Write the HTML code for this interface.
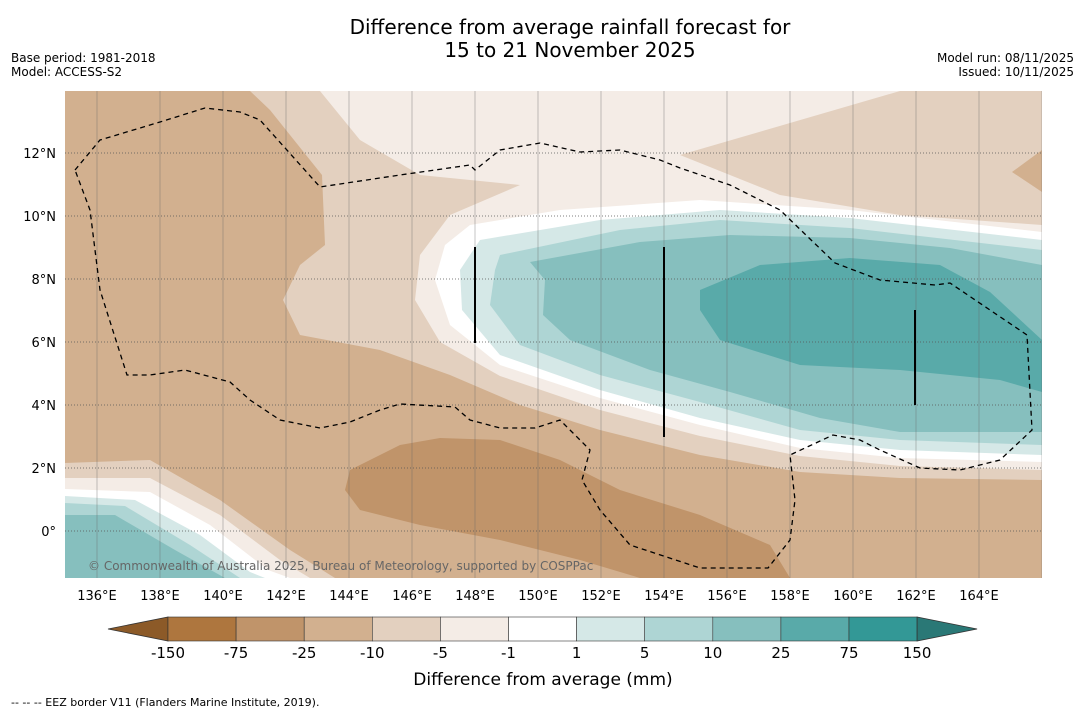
<!DOCTYPE html>
<html><head><meta charset="utf-8"><style>
body{margin:0;background:#fff;font-family:"DejaVu Sans","Liberation Sans",sans-serif;}
</style></head><body>
<svg id="s" width="1085" height="713" xmlns="http://www.w3.org/2000/svg" font-family="DejaVu Sans, Liberation Sans, sans-serif">
<text x="570" y="34" font-size="20" text-anchor="middle">Difference from average rainfall forecast for</text>
<text x="570" y="57" font-size="20" text-anchor="middle">15 to 21 November 2025</text>
<text x="11" y="62" font-size="12">Base period: 1981-2018</text>
<text x="11" y="76" font-size="12">Model: ACCESS-S2</text>
<text x="1074" y="62" font-size="12" text-anchor="end">Model run: 08/11/2025</text>
<text x="1074" y="76" font-size="12" text-anchor="end">Issued: 10/11/2025</text>
<defs><clipPath id="mc"><rect x="65" y="91" width="977" height="487"/></clipPath></defs>
<g clip-path="url(#mc)">
<rect x="65" y="91" width="977" height="487" fill="#d2b08f"/>
<path d="M230,91 L1042,91 L1042,480 L900,478 L800,472 L700,455 L600,430 L520,405 L450,375 L380,350 L300,335 L283,300 L300,265 L325,245 L322,175 L270,110 L250,91Z" fill="#e3d0bf"/>
<path d="M1042,150 L1012,172 L1042,192Z" fill="#d2b08f"/>
<path d="M320,91 L900,91 L680,155 L780,195 L900,215 L1042,225 L1042,470 L900,466 L800,456 L700,436 L600,410 L500,376 L440,342 L415,300 L420,255 L450,215 L520,185 L420,175 L360,140Z" fill="#f4ece6"/>
<path d="M470,225 L560,210 L700,200 L850,210 L1042,232 L1042,462 L900,458 L800,448 L700,425 L600,398 L500,365 L450,325 L435,280 L445,245Z" fill="#ffffff"/>
<path d="M480,240 L600,220 L720,210 L850,218 L1042,240 L1042,455 L900,450 L800,440 L700,418 L600,390 L500,355 L462,310 L460,270Z" fill="#d5e8e7"/>
<path d="M500,255 L620,230 L720,220 L850,228 L1042,250 L1042,445 L900,440 L800,430 L700,402 L600,375 L520,345 L490,305 L495,270Z" fill="#aed5d4"/>
<path d="M530,262 L640,242 L730,235 L850,238 L950,248 L1042,265 L1042,432 L900,432 L820,418 L730,392 L650,370 L570,340 L543,315 L545,280Z" fill="#86bfbe"/>
<path d="M700,290 L760,265 L850,258 L940,265 L990,292 L1042,340 L1042,392 L1000,380 L900,370 L800,365 L720,340 L700,310Z" fill="#59aaa9"/>
<path d="M350,470 L400,445 L440,438 L500,440 L560,460 L620,490 L700,515 L770,545 L790,578 L640,578 L580,560 L500,540 L420,525 L360,510 L345,490Z" fill="#c0946a"/>
<path d="M65,463 L150,460 L220,500 L290,550 L335,578 L65,578Z" fill="#e3d0bf"/>
<path d="M65,478 L150,478 L220,515 L280,560 L310,578 L65,578Z" fill="#f4ece6"/>
<path d="M65,489 L150,492 L210,525 L268,570 L290,578 L65,578Z" fill="#ffffff"/>
<path d="M65,496 L135,500 L200,535 L250,572 L265,578 L65,578Z" fill="#d5e8e7"/>
<path d="M65,503 L125,506 L190,545 L240,578 L65,578Z" fill="#aed5d4"/>
<path d="M65,515 L115,515 L175,550 L225,578 L65,578Z" fill="#86bfbe"/>
<g id="grid"></g>
<path d="M75,170 L100,140 L160,122 L205,108 L240,112 L260,120 L320,187 L400,175 L470,165 L475,170 L500,150 L540,143 L580,152 L620,150 L660,160 L680,168 L730,185 L780,210 L835,263 L880,280 L935,285 L950,283 L1027,335 L1032,430 L1000,460 L960,470 L920,468 L880,450 L860,440 L833,435 L790,455 L795,500 L790,540 L768,568 L700,568 L630,545 L600,510 L582,480 L590,450 L560,420 L535,428 L500,428 L470,420 L455,407 L400,404 L380,410 L350,422 L320,428 L280,420 L250,400 L230,382 L185,370 L150,375 L127,375 L100,290 L90,210 Z" fill="none" stroke="#000" stroke-width="1.3" stroke-dasharray="5,4"/>
<line x1="475" y1="247" x2="475" y2="343" stroke="#000" stroke-width="2"/>
<line x1="664" y1="247" x2="664" y2="437" stroke="#000" stroke-width="2"/>
<line x1="915" y1="310" x2="915" y2="405" stroke="#000" stroke-width="2"/>
<text x="88" y="570" font-size="12" fill="#666">© Commonwealth of Australia 2025, Bureau of Meteorology, supported by COSPPac</text>
</g>
<g id="axes"></g>
<g id="cbar"></g>
<text x="543" y="685" font-size="17" text-anchor="middle">Difference from average (mm)</text>
<text x="11" y="706" font-size="11">-- -- -- EEZ border V11 (Flanders Marine Institute, 2019).</text>
</svg>
<script>
const lonTicks=[136,138,140,142,144,146,148,150,152,154,156,158,160,162,164];
const latTicks=[12,10,8,6,4,2,0];
const levels=["-150","-75","-25","-10","-5","-1","1","5","10","25","75","150"];
const levelColors=["#ae763e","#c0946a","#d2b08f","#e3d0bf","#f4ece6","#ffffff","#d5e8e7","#aed5d4","#86bfbe","#59aaa9","#339896"];
const NS="http://www.w3.org/2000/svg";
const lx=v=>97+(v-136)*31.5;
const ly=v=>531-v*31.5;
function mk(t,a,p){const e=document.createElementNS(NS,t);for(const k in a)e.setAttribute(k,a[k]);p.appendChild(e);return e;}
const g=document.getElementById('grid'),ax=document.getElementById('axes'),cb=document.getElementById('cbar');
[134,...lonTicks,166].forEach(v=>{const l=mk('line',{x1:lx(v),x2:lx(v),y1:91,y2:578,stroke:'#666','stroke-width':0.7,'stroke-opacity':0.55},g);

});
latTicks.forEach(v=>{const l=mk('line',{x1:65,x2:1042,y1:ly(v),y2:ly(v),stroke:'#555','stroke-width':0.8,'stroke-dasharray':'1,2'},g);

});
lonTicks.forEach(v=>{const t=mk('text',{x:lx(v),y:600,'font-size':13,'text-anchor':'middle'},ax);t.textContent=v+'°E';

});
latTicks.forEach(v=>{const t=mk('text',{x:56,y:ly(v)+5,'font-size':13,'text-anchor':'end'},ax);t.textContent=v===0?'0°':v+'°N';

});
const cx0=168,cw=68.1,cy=617,ch=24;
const lft=mk('polygon',{points:`108,${cy+ch/2} ${cx0},${cy} ${cx0},${cy+ch}`,fill:'#8c5a28',stroke:'#333','stroke-width':0.8},cb);


levelColors.forEach((c,i)=>{const r=mk('rect',{x:cx0+i*cw,y:cy,width:cw,height:ch,fill:c,stroke:'#333','stroke-width':0.6},cb);

});
const xe=cx0+levelColors.length*cw;
const rgt=mk('polygon',{points:`${xe},${cy} ${xe+60},${cy+ch/2} ${xe},${cy+ch}`,fill:'#2a7876',stroke:'#333','stroke-width':0.8},cb);


levels.forEach((v,i)=>{const t=mk('text',{x:cx0+i*cw,y:658,'font-size':15,'text-anchor':'middle'},cb);t.textContent=v;

});
</script>
</body></html>
